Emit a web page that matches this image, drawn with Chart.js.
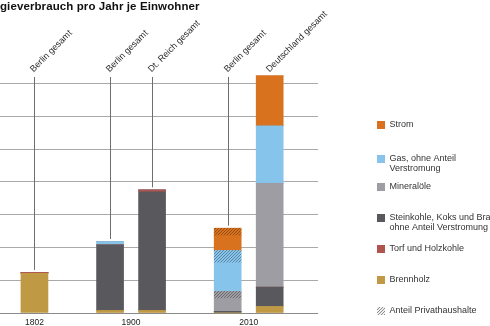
<!DOCTYPE html>
<html>
<head>
<meta charset="utf-8">
<script src="https://cdn.jsdelivr.net/npm/chart.js@4.4.1/dist/chart.umd.min.js"></script>
<style>
  body { margin: 0; background: #fff; }
  #box { width: 490px; height: 326px; }
</style>
</head>
<body>
<div id="box"><canvas id="myChart"></canvas></div>
<script>
const ctx = document.getElementById('myChart');

// Balken: Ort und Jahr
const orte = ['Berlin gesamt', 'Berlin gesamt', 'Dt. Reich gesamt', 'Berlin gesamt', 'Deutschland gesamt'];
const jahre = ['1802', '1900', '1900', '2010', '2010'];

// Werte je Energietraeger (von unten nach oben gestapelt)
const brennholz = [12.1, 0.8, 0.8, 0, 2.0];
const steinkohle = [0, 20.0, 36.2, 0.5, 5.9];
const torf = [0.3, 0, 0.6, 0, 0];
const mineraloele = [0, 0, 0, 3.9, 31.7];
const mineraloelePrivat = [0, 0, 0, 2.2, 0];
const gas = [0, 1.0, 0, 8.7, 17.5];
const gasPrivat = [0, 0, 0, 3.8, 0];
const strom = [0, 0, 0, 4.5, 15.3];
const stromPrivat = [0, 0, 0, 2.3, 0];

const farben = {
  strom: '#d8721e',
  gas: '#86c4ec',
  mineral: '#9e9da3',
  stein: '#59585d',
  torf: '#b1544f',
  holz: '#bf9943'
};

function schraffur(farbe, linie) {
  const c = document.createElement('canvas');
  c.width = 3; c.height = 3;
  const g = c.getContext('2d');
  g.fillStyle = farbe;
  g.fillRect(0, 0, 3, 3);
  g.fillStyle = linie || 'rgba(0,0,0,0.32)';
  for (let i = 0; i < 3; i++) g.fillRect(i, 2 - i, 1, 1);
  return g.createPattern(c, 'repeat');
}

// Position der Balken: innerhalb eines Jahres 1, zwischen Jahren 1.8
const lage = [];
jahre.forEach((j, i) => lage.push(i === 0 ? 0 : lage[i - 1] + (j === jahre[i - 1] ? 1 : 1.8)));

function punkte(werte) {
  return werte.map((v, i) => ({ x: lage[i], y: v }));
}

const legende = [
  { text: ['Strom'], farbe: farben.strom },
  { text: ['Gas, ohne Anteil', 'Verstromung'], farbe: farben.gas },
  { text: ['Mineralöle'], farbe: farben.mineral },
  { text: ['Steinkohle, Koks und Braunkohle,', 'ohne Anteil Verstromung'], farbe: farben.stein },
  { text: ['Torf und Holzkohle'], farbe: farben.torf },
  { text: ['Brennholz'], farbe: farben.holz },
  { text: ['Anteil Privathaushalte'], farbe: schraffur('#eeeeee', 'rgba(0,0,0,0.4)') }
];

const beschriftung = {
  id: 'beschriftung',
  afterDatasetsDraw(chart) {
    const c = chart.ctx;
    const xs = chart.scales.x;
    const ys = chart.scales.y;
    c.save();

    // Titel
    c.font = 'bold 11.5px "Liberation Sans", Arial, sans-serif';
    c.letterSpacing = '0.1px';
    c.fillStyle = '#111';
    c.textBaseline = 'alphabetic';
    const titel = 'Energieverbrauch pro Jahr je Einwohner';
    c.fillText(titel, -c.measureText('Ener').width, 9.5);
    c.letterSpacing = '0px';

    // Linien und schraege Ortsnamen
    const summen = orte.map((o, i) => chart.data.datasets.reduce((s, d) => s + d.data[i].y, 0));
    c.font = '9px "Liberation Sans", Arial, sans-serif';
    orte.forEach((ort, i) => {
      const px = Math.round(xs.getPixelForValue(lage[i])) + 0.5;
      const top = ys.getPixelForValue(summen[i]);
      if (top - 2.5 > 77) {
        c.strokeStyle = '#6e6e6e';
        c.lineWidth = 1;
        c.beginPath();
        c.moveTo(px, 77);
        c.lineTo(px, top - 2.5);
        c.stroke();
      }
      c.save();
      c.translate(px - 1, 72.5);
      c.rotate(-Math.PI / 4);
      c.fillStyle = '#2a2a2a';
      c.textAlign = 'left';
      c.fillText(ort, 0, 0);
      c.restore();
    });

    // Jahreszahlen
    c.font = '8.5px "Liberation Sans", Arial, sans-serif';
    c.fillStyle = '#222';
    c.textAlign = 'center';
    [...new Set(jahre)].forEach(j => {
      const pos = lage.filter((p, i) => jahre[i] === j);
      const mitte = pos.reduce((a, b) => a + b, 0) / pos.length;
      c.fillText(j, xs.getPixelForValue(mitte), 325);
    });

    // Legende
    c.font = '9px "Liberation Sans", Arial, sans-serif';
    c.textAlign = 'left';
    c.textBaseline = 'middle';
    legende.forEach((l, i) => {
      const y = 121 + i * 31 + (i === 1 ? 3 : 0);
      c.fillStyle = l.farbe;
      c.fillRect(377, y, 8, 8);
      c.fillStyle = '#333';
      l.text.forEach((t, k) => c.fillText(t, 389.5, y + 4 + k * 9.5));
    });
    c.restore();
  }
};

const myChart = new Chart(ctx, {
  type: 'bar',
  data: {
    datasets: [
      { label: 'Brennholz', data: punkte(brennholz), backgroundColor: farben.holz },
      { label: 'Steinkohle', data: punkte(steinkohle), backgroundColor: farben.stein },
      { label: 'Torf und Holzkohle', data: punkte(torf), backgroundColor: farben.torf },
      { label: 'Mineralöle', data: punkte(mineraloele), backgroundColor: farben.mineral },
      { label: 'Mineralöle privat', data: punkte(mineraloelePrivat), backgroundColor: schraffur(farben.mineral) },
      { label: 'Gas', data: punkte(gas), backgroundColor: farben.gas },
      { label: 'Gas privat', data: punkte(gasPrivat), backgroundColor: schraffur(farben.gas) },
      { label: 'Strom', data: punkte(strom), backgroundColor: farben.strom },
      { label: 'Strom privat', data: punkte(stromPrivat), backgroundColor: schraffur(farben.strom) }
    ]
  },
  options: {
    responsive: true,
    maintainAspectRatio: false,
    animation: false,
    barThickness: 27,
    borderWidth: 0,
    clip: false,
    plugins: {
      legend: { display: false },
      tooltip: { enabled: false }
    },
    layout: {
      padding: { left: 0, right: 172, top: 83.7, bottom: 13 }
    },
    scales: {
      x: {
        type: 'linear',
        stacked: true,
        offset: false,
        min: -0.82,
        max: 6.75,
        display: false
      },
      y: {
        stacked: true,
        min: 0,
        max: 70,
        ticks: { display: false, stepSize: 10 },
        border: { display: false },
        grid: {
          drawTicks: false,
          color: c => c.tick.value === 0 ? '#8a8a8a' : '#a9a9a9',
          lineWidth: 1
        }
      }
    }
  },
  plugins: [beschriftung]
});
</script>
</body>
</html>
